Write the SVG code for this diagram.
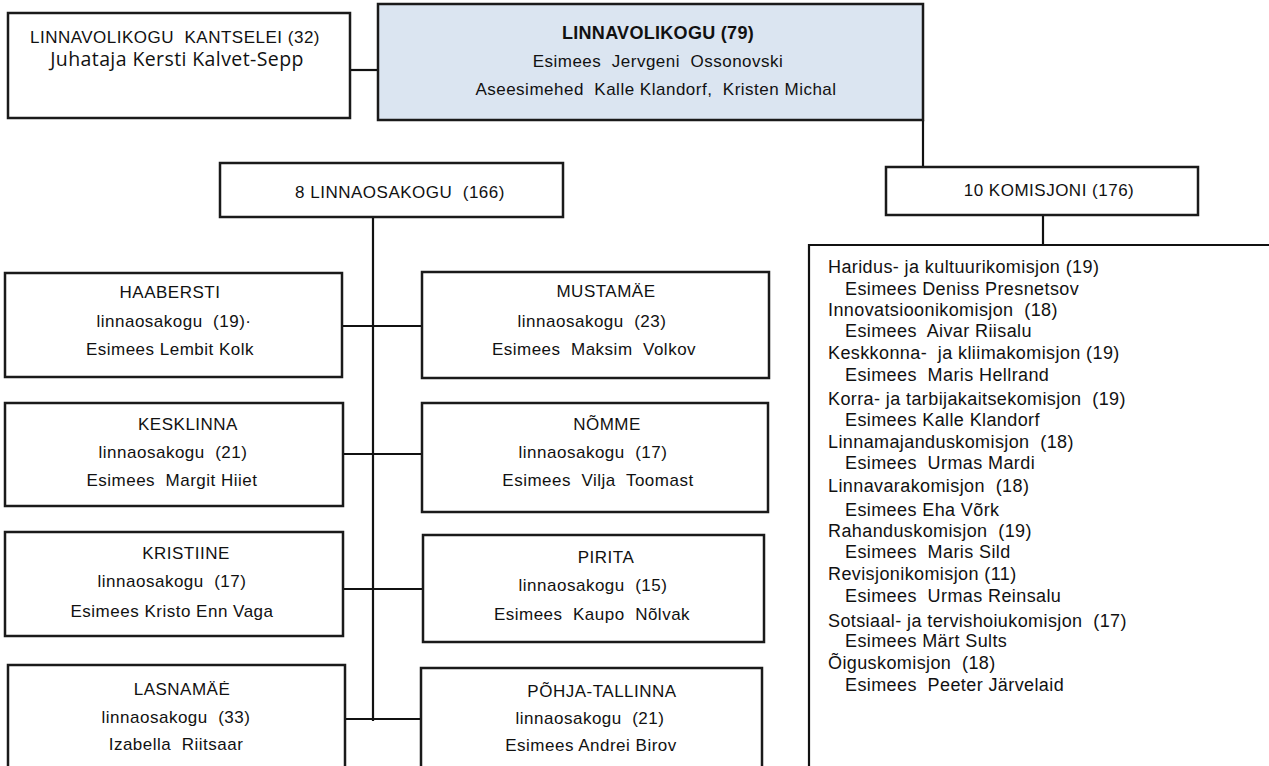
<svg xmlns="http://www.w3.org/2000/svg" width="1269" height="766" viewBox="0 0 1269 766">
<style>
.box{fill:#ffffff;stroke:#1a1a1a;stroke-width:2.5}
.main{fill:#dbe5f1;stroke:#1a1a1a;stroke-width:2.5}
.ln{stroke:#111;stroke-width:2.2;fill:none}
text{font-family:"Liberation Sans",Arial,sans-serif;fill:#111;font-size:17px;letter-spacing:0.5px;white-space:pre}
.c{text-anchor:middle}
.b{font-weight:bold;font-size:18px;letter-spacing:0.3px}
.os{font-family:"Open Sans","Liberation Sans",sans-serif;font-size:19.5px;letter-spacing:0.4px}
.lst{font-size:18px;letter-spacing:0.4px}
</style>
<rect width="1269" height="766" fill="#ffffff"/>
<g id="connectors">
<line class="ln" x1="350" y1="70" x2="378" y2="70"/>
<line class="ln" x1="923" y1="120" x2="923" y2="167"/>
<line class="ln" x1="1043" y1="215" x2="1043" y2="245"/>
<line class="ln" x1="809" y1="245" x2="1269" y2="245"/>
<line class="ln" x1="809" y1="244" x2="809" y2="766"/>
<line class="ln" x1="373" y1="217" x2="373" y2="721"/>
<line class="ln" x1="342" y1="326" x2="422" y2="326"/>
<line class="ln" x1="343" y1="454" x2="422" y2="454"/>
<line class="ln" x1="343" y1="589" x2="423" y2="589"/>
<line class="ln" x1="345" y1="719" x2="421" y2="719"/>
</g>
<g id="kantselei">
<rect class="box" x="8" y="13" width="342" height="105"/>
<text class="c" x="175" y="43">LINNAVOLIKOGU  KANTSELEI (32)</text>
<text class="c os" x="177" y="66">Juhataja Kersti Kalvet-Sepp</text>
</g>
<g id="linnavolikogu">
<rect class="main" x="378" y="4" width="545" height="116"/>
<text class="c b" x="658" y="39">LINNAVOLIKOGU (79)</text>
<text class="c" x="658" y="67">Esimees  Jervgeni  Ossonovski</text>
<text class="c" x="656" y="95">Aseesimehed  Kalle Klandorf,  Kristen Michal</text>
</g>
<g id="linnaosakogu">
<rect class="box" x="220" y="163" width="343" height="54"/>
<text class="c" x="400" y="198">8 LINNAOSAKOGU  (166)</text>
</g>
<g id="komisjoni">
<rect class="box" x="886" y="167" width="312" height="48"/>
<text class="c" x="1049" y="196">10 KOMISJONI (176)</text>
</g>
<g id="haabersti">
<rect class="box" x="5" y="273" width="337" height="104"/>
<text class="c" x="170" y="298">HAABERSTI</text>
<text class="c" x="174" y="327">linnaosakogu  (19)·</text>
<text class="c" x="170" y="355">Esimees Lembit Kolk</text>
</g>
<g id="mustamae">
<rect class="box" x="422" y="272" width="347" height="106"/>
<text class="c" x="606" y="297">MUSTAMÄE</text>
<text class="c" x="592" y="327">linnaosakogu  (23)</text>
<text class="c" x="594" y="355">Esimees  Maksim  Volkov</text>
</g>
<g id="kesklinna">
<rect class="box" x="5" y="403" width="338" height="103"/>
<text class="c" x="188" y="430">KESKLINNA</text>
<text class="c" x="173" y="458">linnaosakogu  (21)</text>
<text class="c" x="172" y="486">Esimees  Margit Hiiet</text>
</g>
<g id="nomme">
<rect class="box" x="422" y="403" width="346" height="109"/>
<text class="c" x="607" y="430">NÕMME</text>
<text class="c" x="593" y="458">linnaosakogu  (17)</text>
<text class="c" x="598" y="486">Esimees  Vilja  Toomast</text>
</g>
<g id="kristiine">
<rect class="box" x="5" y="532" width="338" height="104"/>
<text class="c" x="186" y="559">KRISTIINE</text>
<text class="c" x="172" y="587">linnaosakogu  (17)</text>
<text class="c" x="172" y="617">Esimees Kristo Enn Vaga</text>
</g>
<g id="pirita">
<rect class="box" x="423" y="535" width="341" height="107"/>
<text class="c" x="606" y="563">PIRITA</text>
<text class="c" x="593" y="591">linnaosakogu  (15)</text>
<text class="c" x="592" y="620">Esimees  Kaupo  Nõlvak</text>
</g>
<g id="lasnamae">
<rect class="box" x="8" y="665" width="337" height="120"/>
<text class="c" x="182" y="695">LASNAMÄĖ</text>
<text class="c" x="176" y="723">linnaosakogu  (33)</text>
<text class="c" x="176" y="750">Izabella  Riitsaar</text>
</g>
<g id="pohja-tallinna">
<rect class="box" x="421" y="668" width="341" height="120"/>
<text class="c" x="602" y="697">PÕHJA-TALLINNA</text>
<text class="c" x="590" y="724">linnaosakogu  (21)</text>
<text class="c" x="591" y="751">Esimees Andrei Birov</text>
</g>
<g id="komisjonid-list">
<text class="lst" x="828" y="273">Haridus- ja kultuurikomisjon (19)</text>
<text class="lst" x="845" y="295">Esimees Deniss Presnetsov</text>
<text class="lst" x="828" y="316">Innovatsioonikomisjon  (18)</text>
<text class="lst" x="845" y="337">Esimees  Aivar Riisalu</text>
<text class="lst" x="828" y="359">Keskkonna-  ja kliimakomisjon (19)</text>
<text class="lst" x="845" y="381">Esimees  Maris Hellrand</text>
<text class="lst" x="828" y="405">Korra- ja tarbijakaitsekomisjon  (19)</text>
<text class="lst" x="845" y="426">Esimees Kalle Klandorf</text>
<text class="lst" x="828" y="448">Linnamajanduskomisjon  (18)</text>
<text class="lst" x="845" y="469">Esimees  Urmas Mardi</text>
<text class="lst" x="828" y="492">Linnavarakomisjon  (18)</text>
<text class="lst" x="845" y="516">Esimees Eha Võrk</text>
<text class="lst" x="828" y="537">Rahanduskomisjon  (19)</text>
<text class="lst" x="845" y="558">Esimees  Maris Sild</text>
<text class="lst" x="828" y="580">Revisjonikomisjon (11)</text>
<text class="lst" x="845" y="602">Esimees  Urmas Reinsalu</text>
<text class="lst" x="828" y="627">Sotsiaal- ja tervishoiukomisjon  (17)</text>
<text class="lst" x="845" y="647">Esimees Märt Sults</text>
<text class="lst" x="828" y="669">Õiguskomisjon  (18)</text>
<text class="lst" x="845" y="691">Esimees  Peeter Järvelaid</text>
</g>
</svg>
